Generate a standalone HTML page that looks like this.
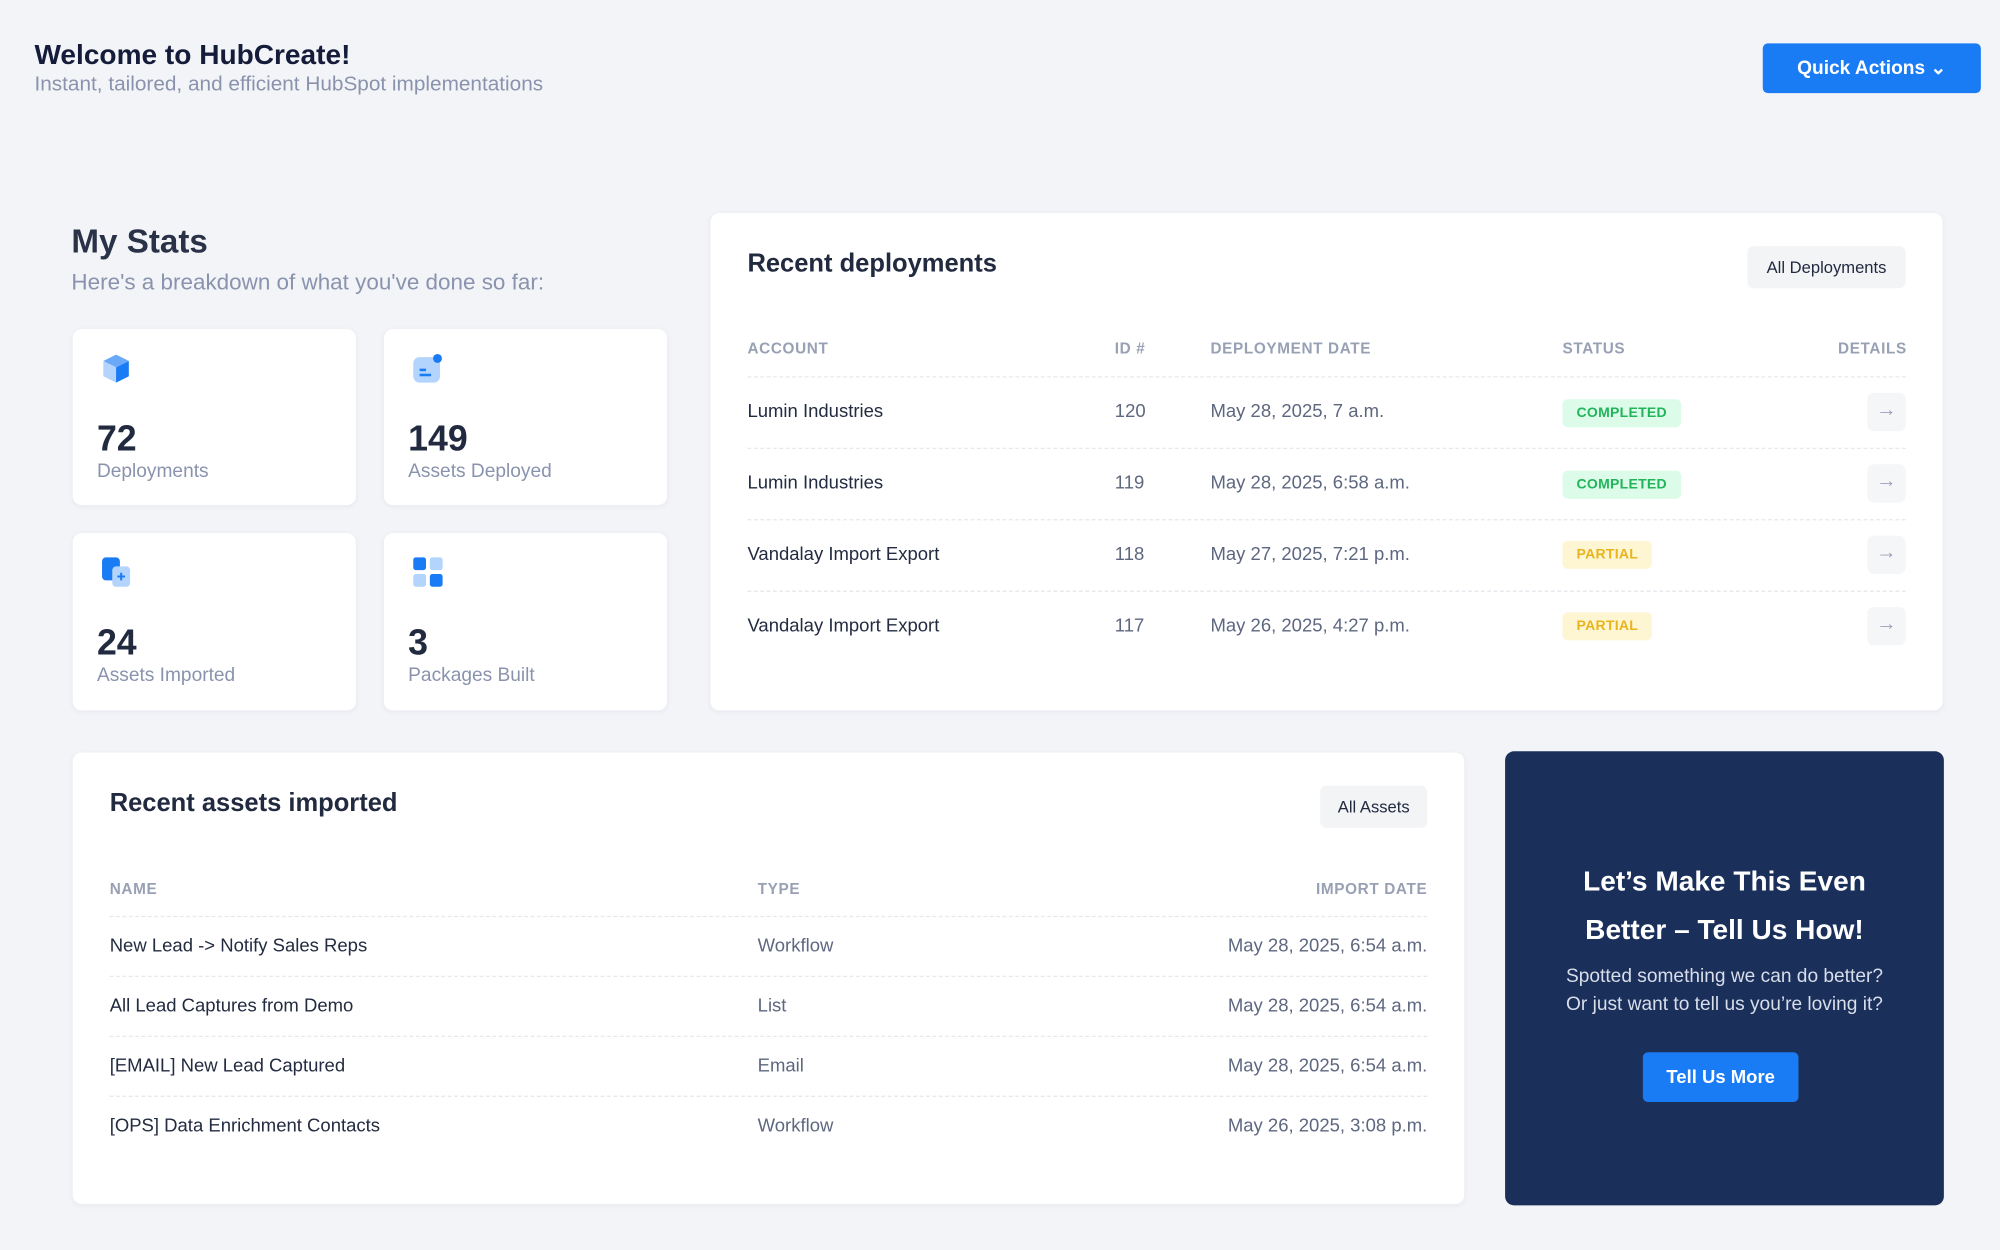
<!DOCTYPE html>
<html><head><meta charset="utf-8"><style>
*{margin:0;padding:0;box-sizing:border-box}
html,body{width:2000px;height:1250px;overflow:hidden;background:#f3f4f8;font-family:"Liberation Sans",sans-serif}
#w{position:absolute;left:0;top:0;width:1568px;height:980px;transform:scale(1.27551);transform-origin:0 0}
.a{position:absolute;white-space:nowrap}
.card{position:absolute;background:#fff;border-radius:7px;box-shadow:0 1px 4px rgba(20,30,60,.06)}
.num{position:absolute;left:19px;top:70px;font-size:28px;font-weight:bold;color:#222a40}
.lbl{position:absolute;left:19px;top:103px;font-size:15px;color:#8a93ad}
.th{font-size:12px;font-weight:bold;color:#98a0b4;letter-spacing:.5px}
.td{font-size:14.5px;color:#232b40}
.tg{font-size:14.5px;color:#5e6780}
.hr{position:absolute;height:0;border-top:1px dashed #e6e8ee}
.badge{position:absolute;font-size:11px;font-weight:bold;letter-spacing:.2px;padding:5px 11px;border-radius:4px}
.c{background:#dcfce9;color:#22b45a}.p{background:#fef5d3;color:#e9b41b}
.arr{position:absolute;width:30px;height:30px;background:#f5f6f8;border-radius:5px;color:#9aa0b8;font-size:16px;text-align:center;line-height:28px}
.btn{position:absolute;background:#f3f4f6;border-radius:5px;font-size:13px;color:#222a40;text-align:center}
</style></head><body><div id="w">
<div class="a" style="left:27px;top:30px;font-size:22px;font-weight:bold;color:#141c3a">Welcome to HubCreate!</div>
<div class="a" style="left:27px;top:57px;font-size:16.3px;color:#8a93ad">Instant, tailored, and efficient HubSpot implementations</div>
<div class="a" style="left:1382px;top:34px;width:171px;height:39px;background:#1a7cf5;border-radius:4px;color:#fff;font-size:15px;font-weight:bold;text-align:center;line-height:39px">Quick Actions ⌄</div>

<div class="a" style="left:56px;top:174px;font-size:26px;font-weight:bold;color:#2a3248">My Stats</div>
<div class="a" style="left:56px;top:211px;font-size:17.6px;color:#8a93ad">Here's a breakdown of what you've done so far:</div>

<div class="card" style="left:57px;top:258px;width:222px;height:138px">
<svg class="a" style="left:22px;top:19px" width="24" height="24" viewBox="0 0 24 24"><path d="M12 1 22 6 12 11 2 6Z" fill="#6aa9f8"/><path d="M2 6 12 11 12 23 2 18Z" fill="#b3d4fd"/><path d="M22 6 12 11 12 23 22 18Z" fill="#1a7cf5"/></svg>
<div class="num">72</div><div class="lbl">Deployments</div></div>
<div class="card" style="left:301px;top:258px;width:222px;height:138px">
<svg class="a" style="left:22px;top:18px" width="26" height="26" viewBox="0 0 26 26"><rect x="1" y="4" width="21" height="20" rx="5" fill="#b3d4fd"/><rect x="6" y="13" width="5" height="2" fill="#1a7cf5"/><rect x="6" y="17" width="9" height="2" fill="#1a7cf5"/><circle cx="20" cy="5" r="3.5" fill="#1a7cf5"/></svg>
<div class="num">149</div><div class="lbl">Assets Deployed</div></div>
<div class="card" style="left:57px;top:418px;width:222px;height:139px">
<svg class="a" style="left:22px;top:18px" width="26" height="26" viewBox="0 0 26 26"><rect x="1" y="1" width="14" height="18" rx="3" fill="#1a7cf5"/><rect x="9" y="8" width="14" height="16" rx="3" fill="#b3d4fd"/><path d="M16 13v6M13 16h6" stroke="#1a7cf5" stroke-width="1.6"/></svg>
<div class="num">24</div><div class="lbl">Assets Imported</div></div>
<div class="card" style="left:301px;top:418px;width:222px;height:139px">
<svg class="a" style="left:22px;top:18px" width="26" height="26" viewBox="0 0 26 26"><rect x="1" y="1" width="10" height="10" rx="2" fill="#1a7cf5"/><rect x="14" y="1" width="10" height="10" rx="2" fill="#b3d4fd"/><rect x="1" y="14" width="10" height="10" rx="2" fill="#b3d4fd"/><rect x="14" y="14" width="10" height="10" rx="2" fill="#1a7cf5"/></svg>
<div class="num">3</div><div class="lbl">Packages Built</div></div>

<div class="card" style="left:557px;top:167px;width:966px;height:390px">
<div class="a" style="left:29px;top:29px;font-size:20px;font-weight:bold;color:#222a40">Recent deployments</div>
<div class="btn" style="left:813px;top:26px;width:124px;height:33px;line-height:33px">All Deployments</div>
<div class="a th" style="left:29px;top:99px">ACCOUNT</div><div class="a th" style="left:317px;top:99px">ID #</div><div class="a th" style="left:392px;top:99px">DEPLOYMENT DATE</div><div class="a th" style="left:668px;top:99px">STATUS</div><div class="a th" style="left:884px;top:99px">DETAILS</div>
<div class="hr" style="left:29px;top:128px;width:908px"></div>
<div class="a td" style="left:29px;top:148px">Lumin Industries</div><div class="a tg" style="left:317px;top:148px">120</div><div class="a tg" style="left:392px;top:148px">May 28, 2025, 7 a.m.</div><div class="badge c" style="left:668px;top:146px">COMPLETED</div><div class="arr" style="left:907px;top:141px">→</div>
<div class="hr" style="left:29px;top:184px;width:908px"></div>
<div class="a td" style="left:29px;top:204px">Lumin Industries</div><div class="a tg" style="left:317px;top:204px">119</div><div class="a tg" style="left:392px;top:204px">May 28, 2025, 6:58 a.m.</div><div class="badge c" style="left:668px;top:202px">COMPLETED</div><div class="arr" style="left:907px;top:197px">→</div>
<div class="hr" style="left:29px;top:240px;width:908px"></div>
<div class="a td" style="left:29px;top:260px">Vandalay Import Export</div><div class="a tg" style="left:317px;top:260px">118</div><div class="a tg" style="left:392px;top:260px">May 27, 2025, 7:21 p.m.</div><div class="badge p" style="left:668px;top:257px">PARTIAL</div><div class="arr" style="left:907px;top:253px">→</div>
<div class="hr" style="left:29px;top:296px;width:908px"></div>
<div class="a td" style="left:29px;top:316px">Vandalay Import Export</div><div class="a tg" style="left:317px;top:316px">117</div><div class="a tg" style="left:392px;top:316px">May 26, 2025, 4:27 p.m.</div><div class="badge p" style="left:668px;top:313px">PARTIAL</div><div class="arr" style="left:907px;top:309px">→</div>
</div>

<div class="card" style="left:57px;top:590px;width:1091px;height:354px">
<div class="a" style="left:29px;top:29px;font-size:20px;font-weight:bold;color:#222a40">Recent assets imported</div>
<div class="btn" style="left:978px;top:26px;width:84px;height:33px;line-height:33px">All Assets</div>
<div class="a th" style="left:29px;top:100px">NAME</div><div class="a th" style="left:537px;top:100px">TYPE</div><div class="a th" style="right:29px;top:100px">IMPORT DATE</div>
<div class="hr" style="left:29px;top:128px;width:1033px"></div>
<div class="a td" style="left:29px;top:144px">New Lead -&gt; Notify Sales Reps</div><div class="a tg" style="left:537px;top:144px">Workflow</div><div class="a tg" style="right:29px;top:144px">May 28, 2025, 6:54 a.m.</div>
<div class="hr" style="left:29px;top:175px;width:1033px"></div>
<div class="a td" style="left:29px;top:191px">All Lead Captures from Demo</div><div class="a tg" style="left:537px;top:191px">List</div><div class="a tg" style="right:29px;top:191px">May 28, 2025, 6:54 a.m.</div>
<div class="hr" style="left:29px;top:222px;width:1033px"></div>
<div class="a td" style="left:29px;top:238px">[EMAIL] New Lead Captured</div><div class="a tg" style="left:537px;top:238px">Email</div><div class="a tg" style="right:29px;top:238px">May 28, 2025, 6:54 a.m.</div>
<div class="hr" style="left:29px;top:269px;width:1033px"></div>
<div class="a td" style="left:29px;top:285px">[OPS] Data Enrichment Contacts</div><div class="a tg" style="left:537px;top:285px">Workflow</div><div class="a tg" style="right:29px;top:285px">May 26, 2025, 3:08 p.m.</div>
</div>

<div class="a" style="left:1180px;top:589px;width:344px;height:356px;background:#1b2f5b;border-radius:7px">
<div class="a" style="left:0;width:344px;top:83px;text-align:center;font-size:22px;font-weight:bold;color:#fff;line-height:38px;white-space:normal">Let’s Make This Even<br>Better – Tell Us How!</div>
<div class="a" style="left:0;width:344px;top:166px;text-align:center;font-size:15px;color:#d8deea;line-height:22px;white-space:normal">Spotted something we can do better?<br>Or just want to tell us you’re loving it?</div>
<div class="a" style="left:108px;top:236px;width:122px;height:39px;background:#1a7cf5;border-radius:4px;color:#fff;font-size:14.5px;font-weight:bold;text-align:center;line-height:40px">Tell Us More</div>
</div>
</div></body></html>
